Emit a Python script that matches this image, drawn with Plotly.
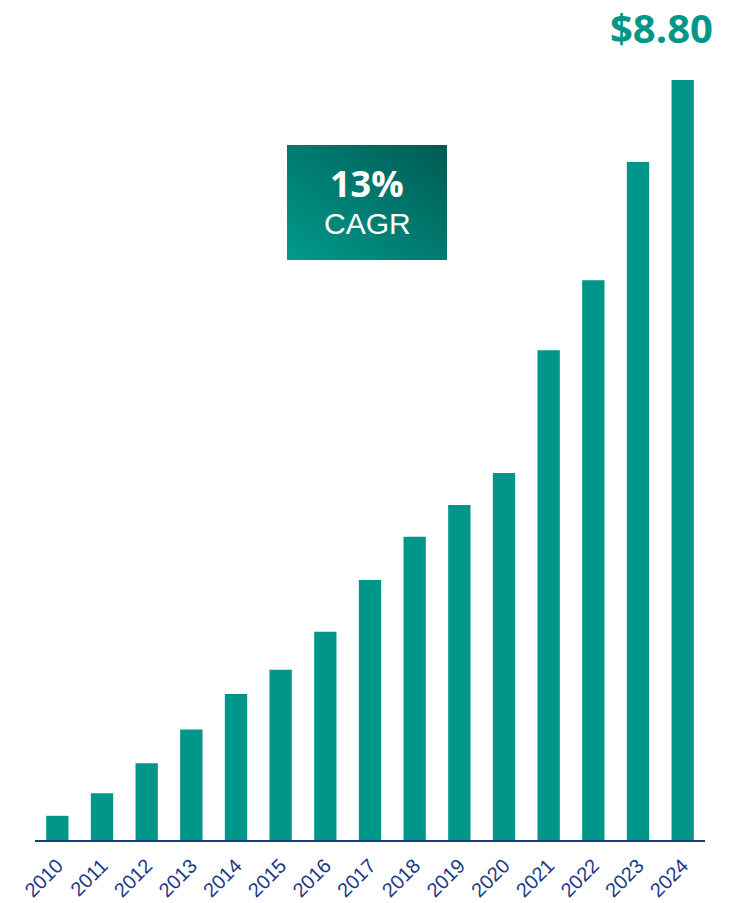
import plotly.graph_objects as go

years = ["2010", "2011", "2012", "2013", "2014", "2015", "2016", "2017",
         "2018", "2019", "2020", "2021", "2022", "2023", "2024"]
values = [0.28, 0.54, 0.89, 1.28, 1.69, 1.97, 2.41, 3.01,
          3.51, 3.88, 4.25, 5.67, 6.48, 7.85, 8.80]
last_label = "&#36;8.80"
cagr_value = "13%"
cagr_label = "CAGR"

TEAL = "#009689"
NAVY = "#1b3a87"

fig = go.Figure()
fig.add_trace(go.Bar(
    x=years, y=values,
    marker=dict(color=TEAL, line=dict(width=0)),
    hoverinfo="x+y",
))

svg = ("data:image/svg+xml;utf8,"
       "<svg xmlns='http://www.w3.org/2000/svg' width='160' height='115'>"
       "<defs><linearGradient id='g' x1='0' y1='1' x2='1' y2='0'>"
       "<stop offset='0' stop-color='%23009a8c'/>"
       "<stop offset='1' stop-color='%23005b53'/>"
       "</linearGradient></defs>"
       "<rect width='160' height='115' fill='url(%23g)'/></svg>")

W, H = 743, 903
ml, mr, mt, mb = 35, 38, 2, 63
pw, ph = W - ml - mr, H - mt - mb

def px(x):
    return (x - ml) / pw

def py(y):
    return (H - mb - y) / ph

fig.add_layout_image(dict(
    source=svg, xref="paper", yref="paper",
    x=px(287), y=py(145), sizex=(447 - 287) / pw, sizey=(260 - 145) / ph,
    xanchor="left", yanchor="top", sizing="stretch", layer="above",
))

fig.add_annotation(xref="paper", yref="paper", x=px(367), y=py(183),
                   text=f"<b>{cagr_value}</b>", showarrow=False,
                   font=dict(family="Open Sans", size=36, color="white"),
                   xanchor="center", yanchor="middle")
fig.add_annotation(xref="paper", yref="paper", x=px(367), y=py(224),
                   text=cagr_label, showarrow=False,
                   font=dict(family="Liberation Sans", size=30, color="white"),
                   xanchor="center", yanchor="middle")
fig.add_annotation(xref="paper", yref="paper", x=px(661), y=py(28),
                   text=f"<b>{last_label}</b>", showarrow=False, borderpad=0,
                   font=dict(family="Open Sans", size=40, color=TEAL),
                   xanchor="center", yanchor="middle")

fig.update_layout(
    width=W, height=H,
    margin=dict(l=ml, r=mr, t=mt, b=mb),
    paper_bgcolor="white", plot_bgcolor="white",
    bargap=0.5, showlegend=False,
    xaxis=dict(
        type="category", range=[-0.5, 14.5],
        showline=True, linecolor=NAVY, linewidth=2,
        showgrid=False, zeroline=False, ticks="",
        tickangle=-45, ticklabelstandoff=4,
        tickfont=dict(family="Liberation Sans", size=20, color=NAVY),
    ),
    yaxis=dict(
        range=[0, ph / (760 / 8.80)], visible=False,
        showgrid=False, zeroline=False,
    ),
)

fig.write_html("out.html", config={"displayModeBar": False},
               post_script="document.body.style.margin='0';")
